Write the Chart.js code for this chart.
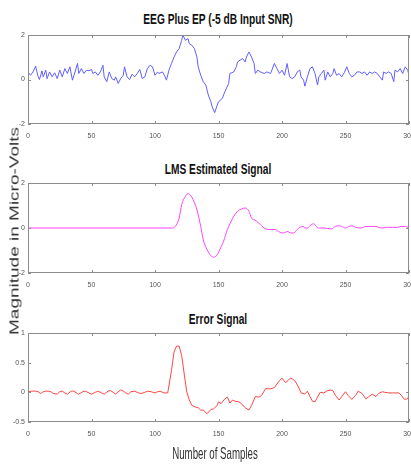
<!DOCTYPE html>
<html>
<head>
<meta charset="utf-8">
<script src="https://cdn.jsdelivr.net/npm/chart.js@4.4.1/dist/chart.umd.min.js"></script>
<style>
    body {
        margin: 0;
        width: 411px;
        height: 465px;
        overflow: hidden;
        position: relative;
        background: #fff;
        font-family: "Liberation Sans", Arial, sans-serif;
    }
    canvas { position: absolute; left: 0; }
    .title {
        position: absolute;
        font-weight: bold;
        font-size: 15px;
        white-space: nowrap;
        color: #111;
        transform: translate(-50%, -50%) scaleX(0.68);
    }
    #xLabel {
        position: absolute;
        left: 215px;
        top: 454px;
        font-size: 17px;
        white-space: nowrap;
        color: #333;
        transform: translate(-50%, -50%) scaleX(0.57);
    }
    #yLabel {
        position: absolute;
        left: 14px;
        top: 231px;
        font-size: 19px;
        white-space: nowrap;
        color: #333;
        transform: translate(-50%, -50%) rotate(-90deg) scaleY(0.68);
    }
</style>
</head>
<body>

<div class="title" style="left:218px; top:18px;">EEG Plus EP (-5 dB Input SNR)</div>
<canvas id="eegChart" width="411" height="150" style="top:0px"></canvas>

<div class="title" style="left:218px; top:168px;">LMS Estimated Signal</div>
<canvas id="lmsChart" width="411" height="150" style="top:150px"></canvas>

<div class="title" style="left:218px; top:318px;">Error Signal</div>
<canvas id="errChart" width="411" height="165" style="top:300px"></canvas>

<div id="xLabel">Number of Samples</div>
<div id="yLabel">Magnitude in Micro-Volts</div>

<script>
// sample index / amplitude pairs for each trace
let eegSamples = [0, 2, 4, 6, 8, 9, 11, 12, 14, 15, 17, 19, 21, 23, 25, 27, 29, 31, 33, 35, 37, 39, 40, 42, 44, 46, 48, 50, 51, 53, 55, 57, 59, 60, 62, 64, 66, 68, 69, 71, 73, 75, 76, 78, 80, 82, 84, 86, 88, 90, 92, 94, 96, 98, 100, 102, 103, 106, 108, 109, 111, 113, 115, 117, 119, 121, 122, 124, 126, 127, 129, 131, 133, 134, 136, 138, 140, 142, 144, 145, 147, 149, 150, 153, 155, 158, 159, 162, 164, 165, 167, 169, 171, 172, 174, 176, 178, 179, 181, 183, 186, 188, 191, 192, 194, 196, 198, 200, 202, 204, 206, 208, 210, 212, 214, 215, 217, 218, 220, 222, 224, 226, 228, 229, 231, 233, 234, 236, 238, 240, 241, 243, 245, 247, 249, 251, 253, 255, 257, 259, 261, 263, 265, 267, 269, 271, 273, 275, 277, 279, 280, 282, 284, 286, 288, 289, 291, 293, 295, 297, 299, 300];
let eegValues = [0.34, 0.19, 0.34, 0.60, 0.12, 0.00, 0.39, 0.12, 0.42, 0.04, 0.34, 0.12, 0.30, 0.04, 0.42, 0.12, 0.49, 0.27, 0.57, -0.03, 0.34, 0.72, 0.27, 0.49, 0.27, 0.42, 0.39, 0.45, 0.27, 0.34, 0.19, 0.34, 0.64, 0.12, -0.10, 0.34, 0.04, -0.03, 0.12, -0.18, 0.04, 0.19, 0.57, 0.12, 0.00, 0.24, 0.12, 0.27, 0.45, 0.04, 0.12, 0.49, 0.64, 0.57, 0.19, 0.34, 0.27, 0.34, 0.12, -0.03, 0.42, 0.72, 1.01, 1.24, 1.39, 1.76, 1.99, 1.76, 1.84, 1.61, 1.54, 1.39, 1.01, 0.57, 0.19, -0.10, -0.25, -0.70, -1.00, -1.22, -1.49, -1.15, -1.00, -0.85, -0.55, -0.18, 0.27, 0.34, 0.57, 0.79, 0.87, 0.94, 0.79, 1.01, 1.24, 1.01, 0.72, 0.27, 0.42, 0.34, 0.27, 0.34, 0.27, 0.42, 0.72, 0.49, 0.27, 0.42, 0.19, 0.72, 0.12, 0.04, 0.12, 0.34, 0.42, 0.12, -0.03, -0.30, 0.12, 0.49, 0.57, 0.27, -0.25, 0.12, 0.27, 0.42, -0.03, 0.34, 0.12, 0.27, 0.49, 0.19, 0.27, 0.12, 0.30, 0.57, 0.27, 0.12, 0.19, 0.34, 0.34, 0.27, 0.34, 0.19, 0.34, 0.27, 0.34, 0.27, 0.12, -0.03, 0.34, 0.27, 0.34, 0.27, -0.10, 0.42, 0.34, 0.49, 0.27, 0.57, 0.42, 0.19];

let lmsSamples = [0, 113, 116, 119, 121, 124, 126, 128, 130, 133, 136, 138, 141, 144, 146, 149, 151, 154, 157, 160, 162, 165, 168, 171, 174, 176, 178, 180, 183, 187, 191, 195, 197, 201, 203, 204, 207, 209, 212, 214, 217, 218, 220, 222, 225, 227, 229, 233, 237, 239, 242, 245, 247, 250, 253, 255, 258, 262, 266, 270, 274, 276, 279, 283, 287, 291, 294, 297, 300];
let lmsValues = [0, 0, 0.07, 0.44, 1.04, 1.41, 1.53, 1.45, 1.26, 0.81, 0.07, -0.52, -0.96, -1.23, -1.30, -1.19, -0.96, -0.59, -0.07, 0.30, 0.52, 0.74, 0.84, 0.89, 0.74, 0.44, 0.37, 0.30, 0.15, -0.04, -0.07, -0.07, -0.15, -0.22, -0.19, -0.15, -0.22, -0.22, -0.07, 0.03, 0.07, 0, 0, 0.10, 0.19, 0.07, 0, 0, -0.03, -0.04, 0.07, 0.10, 0.07, 0, 0.07, 0.10, 0.03, 0, 0.07, 0.07, 0.07, 0.03, 0, 0.03, 0.03, 0.03, 0.07, 0.07, 0];

let errSamples = [0, 3, 6, 8, 10, 12, 14, 16, 18, 20, 23, 25, 27, 29, 31, 34, 36, 39, 40, 43, 45, 48, 50, 53, 55, 58, 60, 63, 65, 67, 69, 71, 73, 75, 77, 79, 81, 84, 87, 89, 92, 94, 97, 100, 102, 104, 107, 110, 113, 115, 117, 119, 121, 123, 125, 127, 129, 132, 134, 136, 138, 141, 144, 146, 149, 150, 152, 155, 157, 159, 161, 163, 166, 168, 171, 174, 176, 179, 182, 184, 187, 191, 194, 197, 200, 201, 203, 205, 207, 210, 213, 215, 218, 220, 222, 224, 226, 228, 230, 233, 235, 238, 240, 242, 245, 247, 250, 252, 255, 258, 260, 263, 266, 268, 271, 274, 276, 279, 281, 284, 287, 289, 292, 294, 296, 298, 300];
let errValues = [0.01, 0.02, 0.02, 0.01, -0.02, 0.01, 0.02, 0.02, 0.01, -0.02, -0.03, 0.01, 0.02, -0.01, -0.03, 0.02, 0.02, -0.02, -0.03, 0.01, 0.02, -0.01, -0.03, 0, 0.02, -0.01, -0.03, 0.02, 0.03, 0, -0.03, 0.01, 0.04, 0.02, -0.01, -0.03, 0.01, 0.02, -0.01, -0.02, 0, 0.02, 0.01, -0.01, 0.01, 0.02, -0.01, -0.01, 0.37, 0.68, 0.78, 0.78, 0.62, 0.31, 0.01, -0.13, -0.22, -0.25, -0.26, -0.30, -0.30, -0.36, -0.29, -0.28, -0.22, -0.16, -0.19, -0.11, -0.08, -0.18, -0.13, -0.15, -0.16, -0.19, -0.26, -0.30, -0.22, -0.07, -0.08, -0.05, 0.06, 0.06, 0.08, 0.17, 0.24, 0.21, 0.16, 0.21, 0.24, 0.20, 0.09, -0.01, -0.03, 0.02, -0.07, -0.15, -0.16, -0.08, 0, -0.01, 0.02, 0.04, 0.03, -0.05, -0.13, -0.07, 0.01, -0.05, -0.12, -0.05, 0.02, -0.02, -0.11, -0.08, -0.03, -0.07, -0.02, 0.01, 0, -0.01, -0.01, -0.01, -0.01, -0.05, -0.11, -0.12, -0.07];

// axis ticks
let xTicks = { min: 0, max: 300, step: 50 };
let eegYTicks = { min: -2, max: 2, step: 2 };
let lmsYTicks = { min: -2, max: 2, step: 2 };
let errYTicks = { min: -0.5, max: 1, step: 0.5 };

Chart.defaults.font.family = '"Liberation Sans", Arial, sans-serif';
Chart.defaults.animation = false;

// matlab style frame: box around the plot area with short inward ticks on every side
const boxPlugin = {
    id: "boxFrame",
    afterDatasetsDraw(chart) {
        const { ctx, chartArea: a, scales } = chart;
        const x = scales.x, y = scales.y;
        ctx.save();
        ctx.strokeStyle = "#8c8c8c";
        ctx.lineWidth = 1;
        ctx.beginPath();
        x.ticks.forEach(t => {
            let px = Math.round(x.getPixelForValue(t.value)) + 0.5;
            ctx.moveTo(px, a.top); ctx.lineTo(px, a.top + 3);
            ctx.moveTo(px, a.bottom); ctx.lineTo(px, a.bottom - 3);
        });
        y.ticks.forEach(t => {
            let py = Math.round(y.getPixelForValue(t.value)) + 0.5;
            ctx.moveTo(a.left, py); ctx.lineTo(a.left + 3, py);
            ctx.moveTo(a.right, py); ctx.lineTo(a.right - 3, py);
        });
        ctx.stroke();
        ctx.strokeRect(Math.round(a.left) + 0.5, Math.round(a.top) + 0.5,
            Math.round(a.right - a.left) - 1, Math.round(a.bottom - a.top) - 1);
        ctx.restore();
    }
};

function makeChart(id, samples, values, color, yTicks, padTop, xHeight, curve) {
    let points = samples.map((s, i) => ({ x: s, y: values[i] }));
    return new Chart(document.getElementById(id), {
        type: "line",
        data: {
            datasets: [{
                data: points,
                borderColor: color,
                borderWidth: 1,
                pointRadius: 0,
                tension: curve ? 0.4 : 0,
                cubicInterpolationMode: curve ? "monotone" : "default"
            }]
        },
        options: {
            responsive: false,
            layout: { autoPadding: false, padding: { top: padTop, right: 2, left: 0, bottom: 0 } },
            plugins: { legend: { display: false }, tooltip: { enabled: false } },
            scales: {
                x: {
                    type: "linear",
                    min: xTicks.min,
                    max: xTicks.max,
                    grid: { display: false, drawTicks: false },
                    border: { display: false },
                    ticks: {
                        stepSize: xTicks.step,
                        padding: 8,
                        maxRotation: 0,
                        color: "#555",
                        font: { size: 7 },
                        callback: v => String(v)
                    },
                    // keep the label overhang from shrinking the plot area
                    afterFit: s => { s.height = xHeight; s.paddingLeft = 0; s.paddingRight = 0; }
                },
                y: {
                    min: yTicks.min,
                    max: yTicks.max,
                    grid: { display: false, drawTicks: false },
                    border: { display: false },
                    ticks: {
                        stepSize: yTicks.step,
                        padding: 3,
                        color: "#555",
                        font: { size: 7 },
                        callback: v => String(v)
                    },
                    afterFit: s => { s.width = 28; s.paddingTop = 0; s.paddingBottom = 0; }
                }
            }
        },
        plugins: [boxPlugin]
    });
}

makeChart("eegChart", eegSamples, eegValues, "#5f5fff", eegYTicks, 35, 26, false);
makeChart("lmsChart", lmsSamples, lmsValues, "#ff40ff", lmsYTicks, 33, 27, true);
makeChart("errChart", errSamples, errValues, "#ff4545", errYTicks, 33, 43, false);
</script>
</body>
</html>
